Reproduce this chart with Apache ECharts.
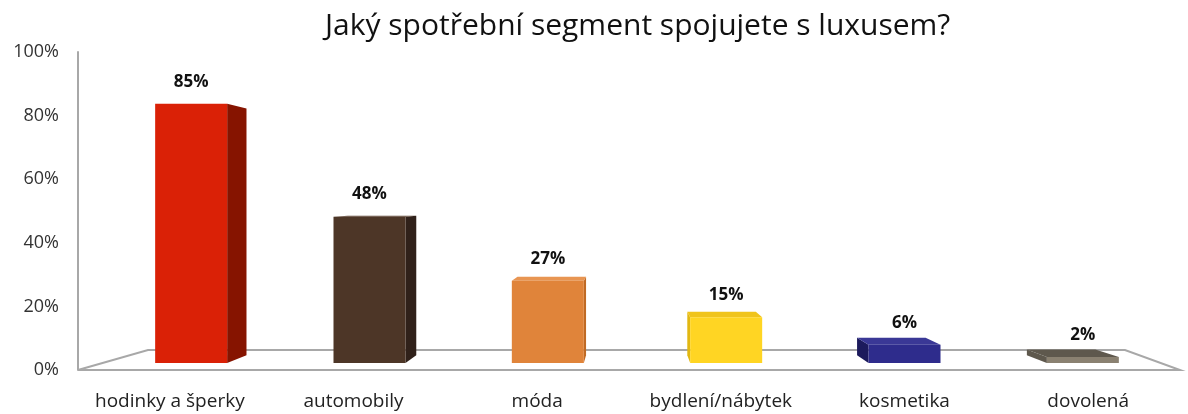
<!DOCTYPE html>
<html>
<head>
  <meta charset="utf-8">
  <title>Luxus</title>
  <script src="https://cdn.jsdelivr.net/npm/echarts@6/dist/echarts.min.js"></script>
  <style>
    html, body { margin: 0; padding: 0; background: #fff; }
    #chart { width: 1188px; height: 414px; }
  </style>
</head>
<body>
<div id="chart"></div>
<script>
  // data
  var categories = ['hodinky a šperky', 'automobily', 'móda', 'bydlení/nábytek', 'kosmetika', 'dovolená'];
  var values = [85, 48, 27, 15, 6, 2];
  var yTicks = [0, 20, 40, 60, 80, 100];

  // barvy: čelo, bok, vršek
  var frontColors = ['#DA2106', '#4D3627', '#E0843A', '#FFD523', '#2E2C8C', '#8A8171'];
  var sideColors = ['#861400', '#30211A', '#C06A24', '#E2B812', '#1C1A5C', '#5E584D'];
  var topColors = ['#E8442A', '#5E4535', '#E89552', '#F0C41C', '#3A3896', '#5E584D'];

  var font = '"Open Sans", "DejaVu Sans", sans-serif';

  // perspektiva
  var VX = 630, VY = 200;   // úběžník
  var D_FRONT = 0.041;      // hloubka čela sloupců
  var D_BAR = 0.048;        // hloubka sloupce
  var BAR_W = 72;

  function toward(p, d) {
    return [p[0] + d * (VX - p[0]), p[1] + d * (VY - p[1])];
  }

  var barData = values.map(function (v, i) { return [i, v]; });

  var chart = echarts.init(document.getElementById('chart'));

  var option = {
    animation: false,
    title: {
      text: 'Jaký spotřební segment spojujete s luxusem?',
      left: 320,
      top: 6,
      textStyle: { fontFamily: font, fontSize: 30, fontWeight: 'normal', color: '#111' }
    },
    grid: { left: 78, right: 8, top: 52, bottom: 44 },
    xAxis: {
      type: 'category',
      data: categories,
      axisLine: { show: false },
      axisTick: { show: false },
      axisLabel: { interval: 0, margin: 22, fontFamily: font, fontSize: 19, color: '#222' }
    },
    yAxis: {
      type: 'value',
      min: 0,
      max: 100,
      interval: 20,
      axisLine: { show: true, lineStyle: { color: '#A8A8A8', width: 2 } },
      axisTick: { show: false },
      splitLine: { show: false },
      axisLabel: {
        margin: 19, fontFamily: font, fontSize: 18, color: '#333',
        formatter: function (v) { return yTicks.indexOf(v) >= 0 ? v + '%' : ''; }
      }
    },
    series: [
      {
        // podlaha
        type: 'custom',
        silent: true,
        z: 1,
        data: [[0, 0]],
        renderItem: function (params, api) {
          var cs = params.coordSys;
          var yb = cs.y + cs.height;
          var fl = [cs.x, yb], fr = [cs.x + cs.width, yb];
          var bl = [cs.x + 70, yb - 20], br = [cs.x + cs.width - 55, yb - 20];
          return {
            type: 'polyline',
            shape: { points: [fl, bl, br, fr, fl] },
            style: { stroke: '#A8A8A8', lineWidth: 2, fill: null }
          };
        }
      },
      {
        type: 'custom',
        silent: true,
        z: 2,
        data: barData,
        renderItem: function (params, api) {
          var i = params.dataIndex;
          var v = api.value(1);
          var p0 = api.coord([api.value(0), 0]);
          var pv = api.coord([api.value(0), v]);
          // čelo sloupce posunuté do hloubky
          var xc = 905 + (p0[0] - 905) * 0.971;
          var yb = toward([xc, p0[1]], D_FRONT)[1];
          var yt = toward([xc, pv[1]], D_FRONT)[1];
          var xl = xc - BAR_W / 2, xr = xc + BAR_W / 2;
          var children = [];

          if (xr < VX) {
            children.push({
              type: 'polygon',
              shape: { points: [[xr, yt], toward([xr, yt], D_BAR), toward([xr, yb], D_BAR), [xr, yb]] },
              style: { fill: sideColors[i] }
            });
          }
          if (xl > VX) {
            children.push({
              type: 'polygon',
              shape: { points: [[xl, yt], toward([xl, yt], D_BAR), toward([xl, yb], D_BAR), [xl, yb]] },
              style: { fill: sideColors[i] }
            });
          }
          if (yt > VY) {
            children.push({
              type: 'polygon',
              shape: { points: [[xl, yt], [xr, yt], toward([xr, yt], D_BAR), toward([xl, yt], D_BAR)] },
              style: { fill: topColors[i] }
            });
          }
          children.push({
            type: 'rect',
            shape: { x: xl, y: yt, width: BAR_W, height: yb - yt },
            style: { fill: frontColors[i] }
          });
          children.push({
            type: 'text',
            x: xc,
            y: yt - 22,
            style: {
              text: v + '%',
              fontFamily: font,
              fontSize: 17,
              fontWeight: 'bold',
              fill: '#111',
              align: 'center',
              verticalAlign: 'middle'
            }
          });
          return { type: 'group', children: children };
        }
      }
    ]
  };

  option && chart.setOption(option);

  window.onresize = function () {
    chart.resize();
  };
</script>
</body>
</html>
